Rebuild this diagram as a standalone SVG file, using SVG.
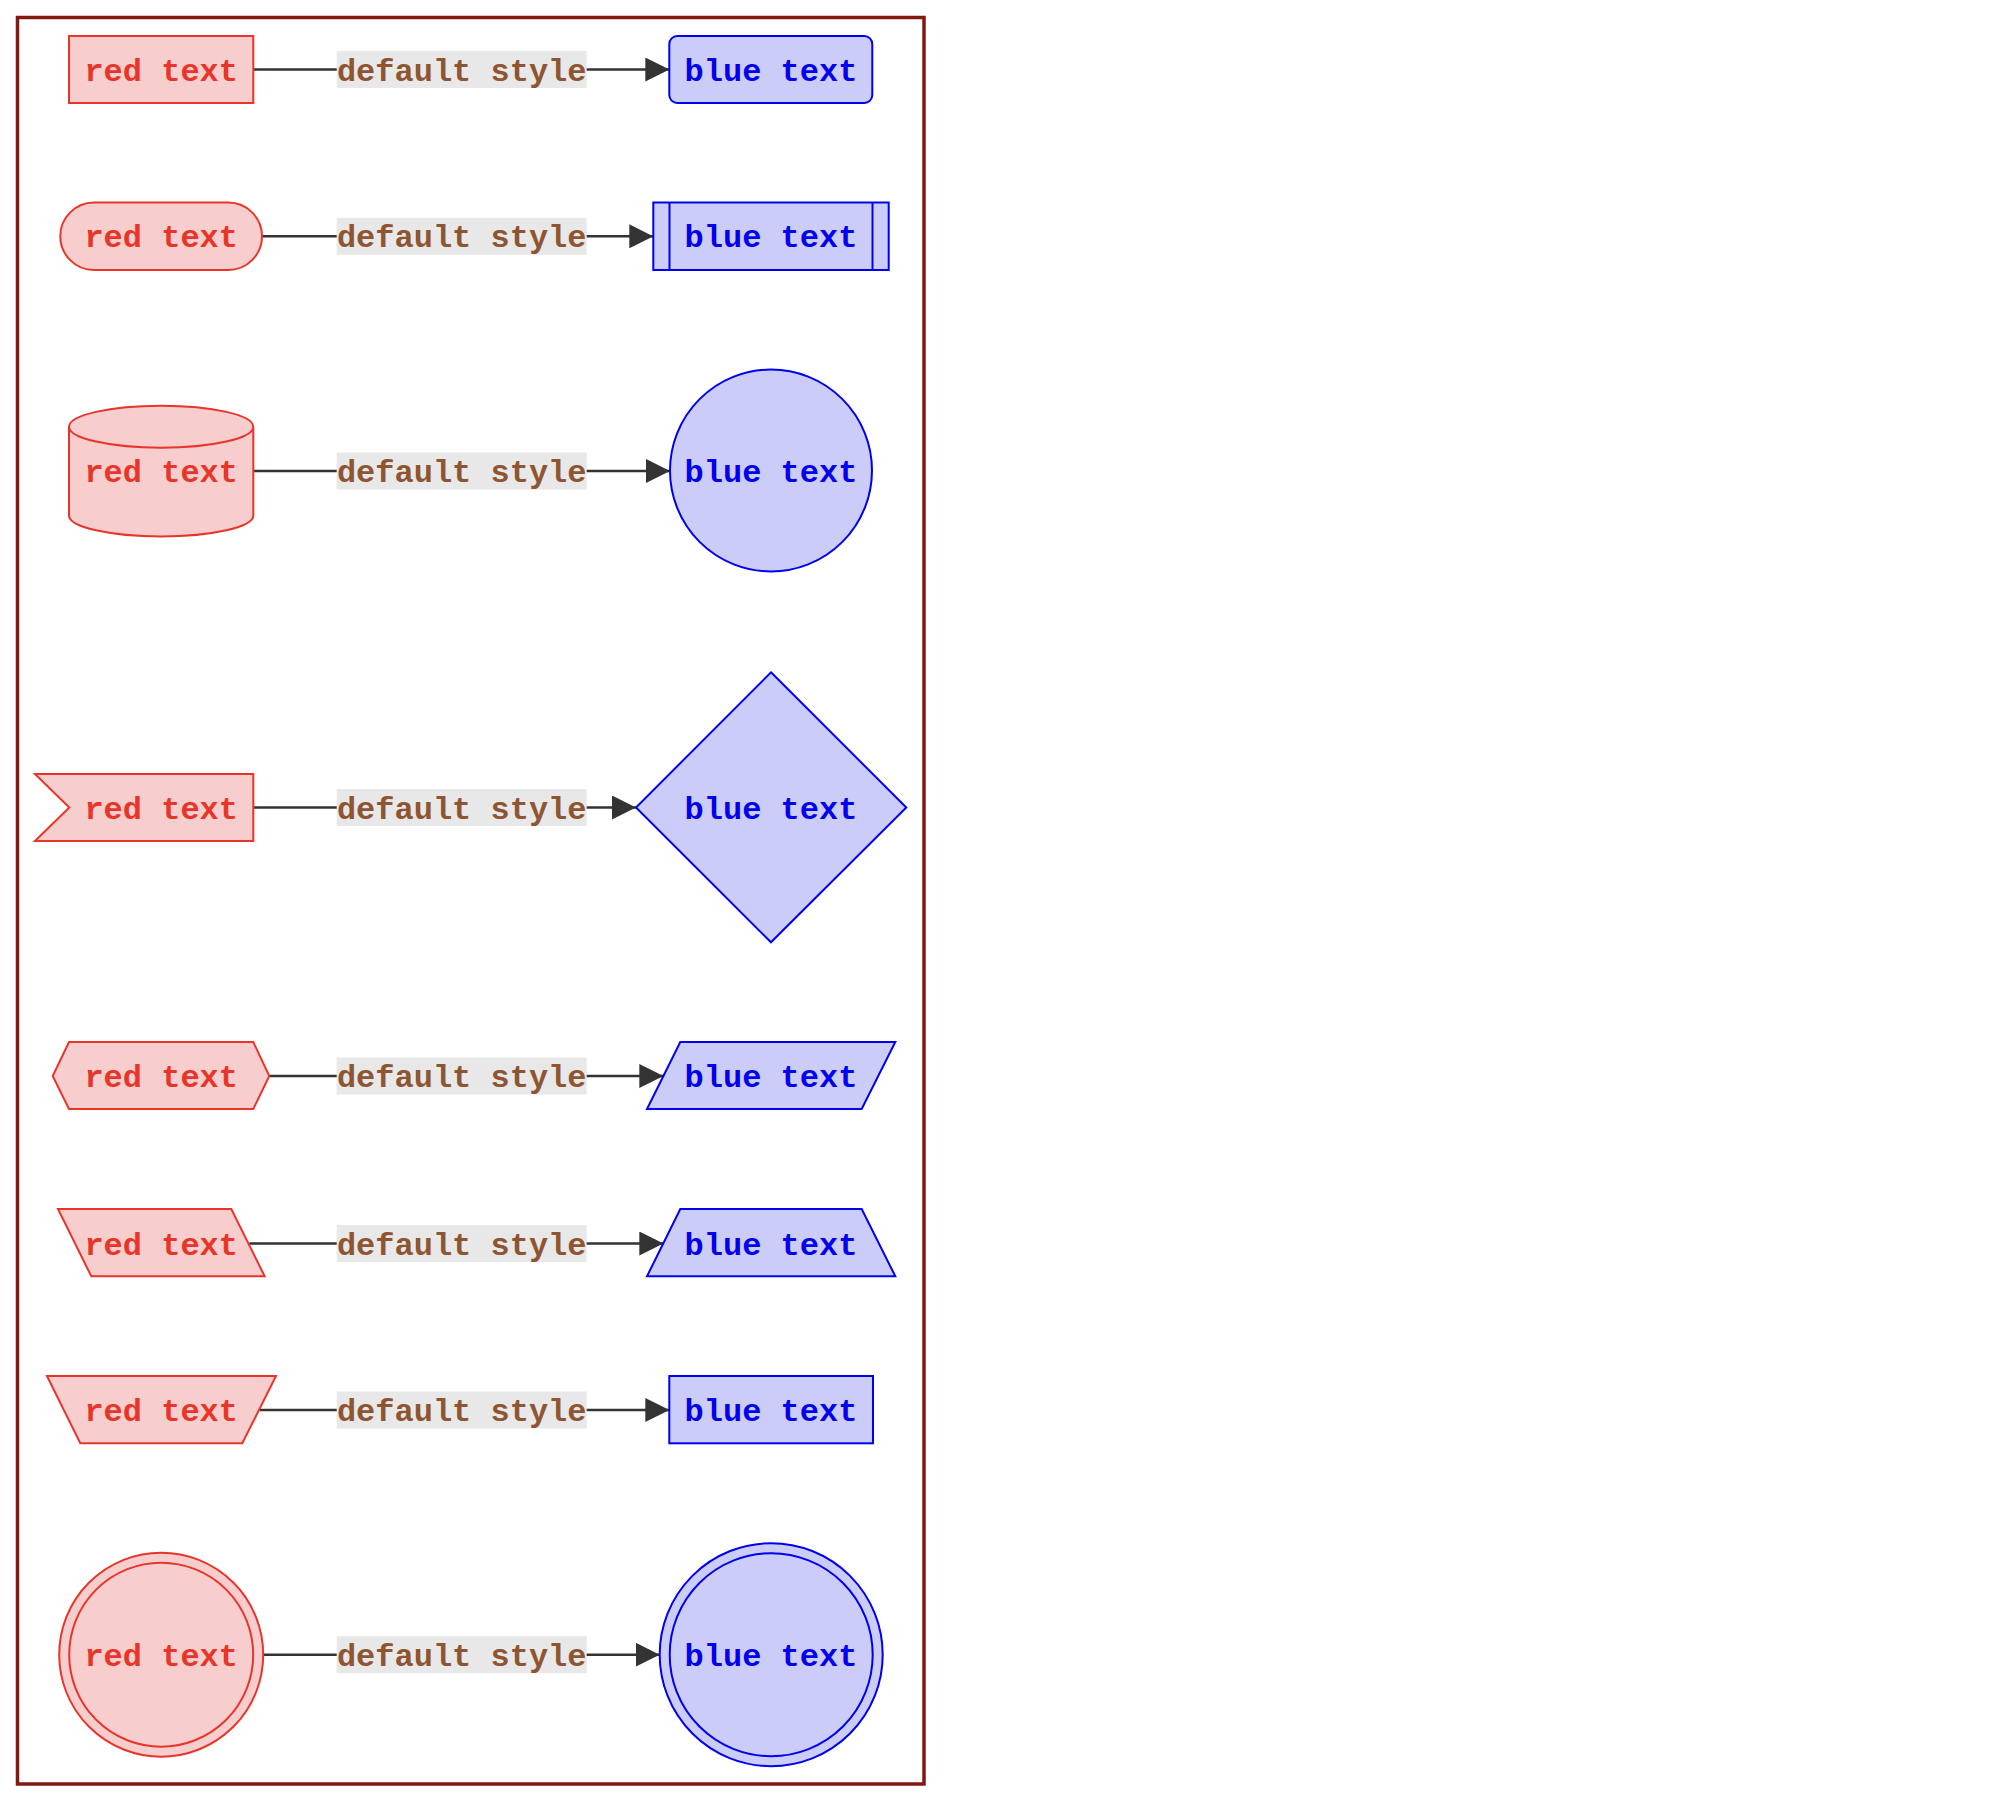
<svg xmlns="http://www.w3.org/2000/svg" width="2000" height="1802" viewBox="0 0 2000 1802">
<style>
.red{fill:#f7cdcd;stroke:#e8352a;stroke-width:2}
.blue{fill:#ccccf9;stroke:#0000ee;stroke-width:2}
.rt{fill:#e8352a;font-family:"Liberation Mono","Courier New",monospace;font-weight:bold;font-size:32px;text-anchor:middle}
.bt{fill:#0000ee;font-family:"Liberation Mono","Courier New",monospace;font-weight:bold;font-size:32px;text-anchor:middle}
.lt{fill:#8e5533;font-family:"Liberation Mono","Courier New",monospace;font-weight:bold;font-size:32px;text-anchor:middle}
.lbg{fill:#e8e8e8}
.edge{stroke:#333;stroke-width:2.5;fill:none}
</style>
<defs>
<marker id="arr" markerUnits="userSpaceOnUse" markerWidth="24" markerHeight="24" refX="24" refY="12" orient="auto" viewBox="0 0 24 24">
<path d="M0,0 L24,12 L0,24 Z" fill="#333"/>
</marker>
</defs>
<rect x="0" y="0" width="2000" height="1802" fill="#fff"/>
<rect id="frame" x="17.5" y="17.5" width="906.5" height="1766.5" fill="none" stroke="#821810" stroke-width="3.5"/>

<g id="connectors">
<line class="edge" x1="253.3" y1="69.5" x2="669.3" y2="69.5" marker-end="url(#arr)"/>
<line class="edge" x1="262" y1="236.3" x2="653.3" y2="236.3" marker-end="url(#arr)"/>
<line class="edge" x1="253.3" y1="471" x2="670" y2="471" marker-end="url(#arr)"/>
<line class="edge" x1="253.3" y1="807.5" x2="636" y2="807.5" marker-end="url(#arr)"/>
<line class="edge" x1="269.3" y1="1076" x2="663.3" y2="1076" marker-end="url(#arr)"/>
<line class="edge" x1="249.3" y1="1243.5" x2="663.3" y2="1243.5" marker-end="url(#arr)"/>
<line class="edge" x1="259.7" y1="1410" x2="669.3" y2="1410" marker-end="url(#arr)"/>
<line class="edge" x1="263.3" y1="1654.7" x2="659.7" y2="1654.7" marker-end="url(#arr)"/>
<g id="labels">
<rect class="lbg" x="336.7" y="51" width="250" height="37"/><text class="lt" x="461.7" y="80.5">default style</text>
<rect class="lbg" x="336.7" y="217.8" width="250" height="37"/><text class="lt" x="461.7" y="247.3">default style</text>
<rect class="lbg" x="336.7" y="452.5" width="250" height="37"/><text class="lt" x="461.7" y="482">default style</text>
<rect class="lbg" x="336.7" y="789" width="250" height="37"/><text class="lt" x="461.7" y="818.5">default style</text>
<rect class="lbg" x="336.7" y="1057.5" width="250" height="37"/><text class="lt" x="461.7" y="1087">default style</text>
<rect class="lbg" x="336.7" y="1225" width="250" height="37"/><text class="lt" x="461.7" y="1254.5">default style</text>
<rect class="lbg" x="336.7" y="1391.5" width="250" height="37"/><text class="lt" x="461.7" y="1421">default style</text>
<rect class="lbg" x="336.7" y="1636.2" width="250" height="37"/><text class="lt" x="461.7" y="1665.7">default style</text>
</g>
</g>

<g id="r1"><rect class="red" x="69" y="36" width="184.3" height="67"/><text class="rt" x="161.2" y="80.5">red text</text></g>
<g id="b1"><rect class="blue" x="669.3" y="36" width="203" height="67" rx="8"/><text class="bt" x="771" y="80.5">blue text</text></g>

<g id="r2"><rect class="red" x="60.3" y="202.5" width="201.7" height="67.5" rx="33.7"/><text class="rt" x="161.2" y="247.3">red text</text></g>
<g id="b2"><rect class="blue" x="653.3" y="202.5" width="235.4" height="67.5"/><line class="blue" x1="669.5" y1="202.5" x2="669.5" y2="270"/><line class="blue" x1="872.5" y1="202.5" x2="872.5" y2="270"/><text class="bt" x="771" y="247.3">blue text</text></g>

<g id="r3"><path class="red" d="M69,426.7 a92.15,21 0 0 0 184.3,0 a92.15,21 0 0 0 -184.3,0 L69,515.5 a92.15,21 0 0 0 184.3,0 L253.3,426.7"/><text class="rt" x="161.2" y="482">red text</text></g>
<g id="b3"><circle class="blue" cx="771" cy="470.5" r="101"/><text class="bt" x="771" y="482">blue text</text></g>

<g id="r4"><polygon class="red" points="35,774 253.3,774 253.3,841 35,841 69.3,807.5"/><text class="rt" x="161.2" y="818.5">red text</text></g>
<g id="b4"><polygon class="blue" points="771,672.3 906.3,807.5 771,942.3 636,807.5"/><text class="bt" x="771" y="818.5">blue text</text></g>

<g id="r5"><polygon class="red" points="69,1042 253.3,1042 269.3,1076 253.3,1109 69,1109 52.7,1076"/><text class="rt" x="161.2" y="1087">red text</text></g>
<g id="b5"><polygon class="blue" points="680.3,1042 895.3,1042 861.7,1109 647,1109"/><text class="bt" x="771" y="1087">blue text</text></g>

<g id="r6"><polygon class="red" points="58,1209 231.3,1209 264.7,1276.3 91.3,1276.3"/><text class="rt" x="161.2" y="1254.5">red text</text></g>
<g id="b6"><polygon class="blue" points="680.3,1209 861.7,1209 895.3,1276.3 647,1276.3"/><text class="bt" x="771" y="1254.5">blue text</text></g>

<g id="r7"><polygon class="red" points="47,1376 276,1376 242.3,1443.3 80.3,1443.3"/><text class="rt" x="161.2" y="1421">red text</text></g>
<g id="b7"><rect class="blue" x="669.3" y="1376" width="203.7" height="67.3"/><text class="bt" x="771" y="1421">blue text</text></g>

<g id="r8"><circle class="red" cx="161.2" cy="1654.7" r="102"/><circle class="red" cx="161.2" cy="1654.7" r="92"/><text class="rt" x="161.2" y="1665.7">red text</text></g>
<g id="b8"><circle class="blue" cx="771.2" cy="1654.7" r="111.5"/><circle class="blue" cx="771.2" cy="1654.7" r="101.5"/><text class="bt" x="771" y="1665.7">blue text</text></g>
</svg>
